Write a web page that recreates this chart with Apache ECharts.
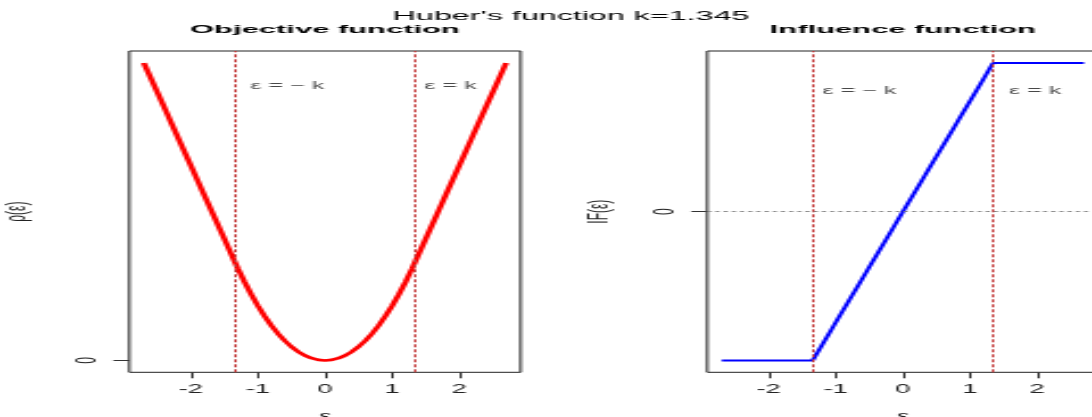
<!DOCTYPE html>
<html>
<head>
<meta charset="utf-8">
<script src="https://cdn.jsdelivr.net/npm/echarts@6/dist/echarts.min.js"></script>
<style>
html,body{margin:0;padding:0;background:#fff;overflow:hidden;width:1092px;height:417px;}
#chart{width:480px;height:417px;transform:scaleX(2.275);transform-origin:0 0;}
</style>
</head>
<body>
<div id="chart"></div>
<script>
// ---- data ----
const kValue = 1.345;
const mainTitle = "Huber's function k=1.345";
const panelTitles = ['Objective function', 'Influence function'];
const xAxisName = 'ε';
const yAxisNames = ['ρ(ε)', 'IF(ε)'];
const xTickValues = [-2, -1, 0, 1, 2];
const yTickValues = [0];
// objective function rho(e)
const rhoX = [-2.7, -2.4, -2.1, -1.8, -1.5, -1.345, -1.3, -1.2, -1.1, -1.0, -0.9, -0.8, -0.7, -0.6, -0.5, -0.4, -0.3, -0.2, -0.1, 0,
              0.1, 0.2, 0.3, 0.4, 0.5, 0.6, 0.7, 0.8, 0.9, 1.0, 1.1, 1.2, 1.3, 1.345, 1.5, 1.8, 2.1, 2.4, 2.7];
const rhoY = [2.727, 2.324, 1.920, 1.517, 1.113, 0.905, 0.845, 0.720, 0.605, 0.500, 0.405, 0.320, 0.245, 0.180, 0.125, 0.080, 0.045, 0.020, 0.005, 0,
              0.005, 0.020, 0.045, 0.080, 0.125, 0.180, 0.245, 0.320, 0.405, 0.500, 0.605, 0.720, 0.845, 0.905, 1.113, 1.517, 1.920, 2.324, 2.727];
// influence function psi(e)
const psiX = [-2.7, -1.345, 1.345, 2.7];
const psiY = [-1.345, -1.345, 1.345, 1.345];
// annotation texts and their anchor points (data units) per panel
const annoTexts = ['ε = − k', 'ε = k'];
const annoLeftX = [-1.115, 1.48];
const annoLeftY = [2.52, 2.52];
const annoRightX = [-1.20, 1.583];
const annoRightY = [1.09, 1.09];

// ---- chart ----
const chart = echarts.init(document.getElementById('chart'), null, {renderer: 'canvas'});
const FONT = 'Liberation Sans, Arial, Helvetica, sans-serif';
const TXT = '#222';

function zip(a, b) { return a.map((v, i) => [v, b[i]]); }

function xAxisCfg(gi) {
  return {
    type: 'value', gridIndex: gi, position: 'bottom', min: -2.916, max: 2.916,
    axisLine: {show: false, onZero: false},
    splitLine: {show: false},
    axisTick: {show: true, length: 6, customValues: xTickValues, lineStyle: {color: '#333', width: 1}},
    axisLabel: {show: true, customValues: xTickValues, margin: 11, color: TXT, fontSize: 12, fontFamily: FONT,
                formatter: v => String(v)},
    name: xAxisName, nameLocation: 'middle', nameGap: 38,
    nameTextStyle: {color: TXT, fontSize: 12, fontFamily: FONT}
  };
}
function yAxisCfg(gi, mn, mx) {
  return {
    type: 'value', gridIndex: gi, position: 'left', min: mn, max: mx,
    axisLine: {show: false, onZero: false},
    splitLine: {show: false},
    axisTick: {show: true, length: 7, customValues: yTickValues, lineStyle: {color: '#333', width: 1}},
    axisLabel: {show: true, customValues: yTickValues, rotate: 90, margin: 12, color: TXT, fontSize: 12, fontFamily: FONT},
    name: yAxisNames[gi], nameLocation: 'middle', nameGap: gi === 0 ? 43 : 41, nameRotate: 90,
    nameTextStyle: {color: TXT, fontSize: 12, fontFamily: FONT}
  };
}
const kLineStyle = {color: '#c43c3c', type: [3, 2], width: 1};

function annoSeries(gi, xs, ys) {
  return {
    type: 'scatter', xAxisIndex: gi, yAxisIndex: gi, symbolSize: 0, silent: true,
    data: xs.map((x, i) => ({value: [x, ys[i]], name: annoTexts[i]})),
    label: {show: true, position: 'right', distance: 0, formatter: p => p.name,
            color: '#1a1a1a', fontSize: 11, fontFamily: FONT},
    z: 5
  };
}

const option = {
  animation: false,
  backgroundColor: '#ffffff',
  grid: [
    {left: 56.84, top: 51, width: 172, height: 321.3, show: true, borderColor: '#222', borderWidth: 1,
     backgroundColor: 'transparent', containLabel: false, outerBoundsMode: 'none'},
    {left: 310.86, top: 51, width: 172, height: 321.3, show: true, borderColor: '#222', borderWidth: 1,
     backgroundColor: 'transparent', containLabel: false, outerBoundsMode: 'none'}
  ],
  xAxis: [xAxisCfg(0), xAxisCfg(1)],
  yAxis: [yAxisCfg(0, -0.109, 2.836), yAxisCfg(1, -1.4526, 1.4526)],
  graphic: [
    {type: 'text', x: 251, y: 17, scaleY: 0.85, style: {text: mainTitle, fill: '#000', font: '14.2px ' + FONT, align: 'center', verticalAlign: 'middle'}},
    {type: 'text', x: 142.84, y: 29.5, scaleY: 0.85, style: {text: panelTitles[0], fill: '#000', font: 'bold 13.6px ' + FONT, align: 'center', verticalAlign: 'middle'}},
    {type: 'text', x: 396.86, y: 29.5, scaleY: 0.85, style: {text: panelTitles[1], fill: '#000', font: 'bold 13.6px ' + FONT, align: 'center', verticalAlign: 'middle'}}
  ],
  series: [
    {
      type: 'line', xAxisIndex: 0, yAxisIndex: 0, data: zip(rhoX, rhoY), showSymbol: false,
      lineStyle: {color: '#ff0000', width: 2.6}, itemStyle: {color: '#ff0000'}, z: 3,
      markLine: {silent: true, symbol: ['none', 'none'], label: {show: false}, animation: false,
                 data: [{xAxis: -kValue, lineStyle: kLineStyle}, {xAxis: kValue, lineStyle: kLineStyle}]}
    },
    {
      type: 'line', xAxisIndex: 1, yAxisIndex: 1, data: zip(psiX, psiY), showSymbol: false,
      lineStyle: {color: '#0000ff', width: 2}, itemStyle: {color: '#0000ff'}, z: 3,
      markLine: {silent: true, symbol: ['none', 'none'], label: {show: false}, animation: false,
                 data: [{xAxis: -kValue, lineStyle: kLineStyle}, {xAxis: kValue, lineStyle: kLineStyle},
                        {yAxis: 0, lineStyle: {color: '#888', type: [1.8, 1.8], width: 1}}]}
    },
    annoSeries(0, annoLeftX, annoLeftY),
    annoSeries(1, annoRightX, annoRightY)
  ]
};
chart.setOption(option);
</script>
</body>
</html>
